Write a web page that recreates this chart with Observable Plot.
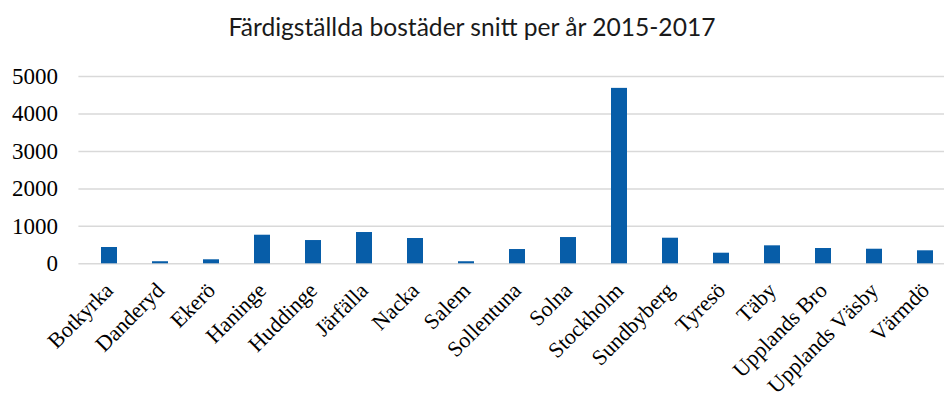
<!DOCTYPE html>
<html>
<head>
<meta charset="utf-8">
<script src="https://cdn.jsdelivr.net/npm/d3@7"></script>
<script src="https://cdn.jsdelivr.net/npm/@observablehq/plot@0.6"></script>
<style>
  html, body { margin: 0; padding: 0; background: #fff; }
  #wrap { width: 944px; height: 401px; position: relative; overflow: hidden; }
  #title { position: absolute; left: 0; top: 0; width: 944px; height: 54px; line-height: 54px;
           text-align: center; font-family: Lato, "Liberation Sans", Arial, sans-serif; font-size: 24.6px; color: #1a1a1a; }
  #chart { position: absolute; left: 0; top: 55px; }
</style>
</head>
<body>
<div id="wrap">
  <div id="title">Färdigställda bostäder snitt per år 2015-2017</div>
  <div id="chart"></div>
</div>
<script>
const categories = ["Botkyrka","Danderyd","Ekerö","Haninge","Huddinge","Järfälla","Nacka","Salem","Sollentuna","Solna","Stockholm","Sundbyberg","Tyresö","Täby","Upplands Bro","Upplands Väsby","Värmdö"];
const values = [435, 55, 107, 763, 621, 835, 675, 55, 381, 701, 4683, 683, 283, 480, 408, 389, 347];
const yTicks = [0, 1000, 2000, 3000, 4000, 5000];

const data = categories.map((c, i) => ({name: c, value: values[i]}));

const chart = Plot.plot({
  width: 944,
  height: 346,
  marginTop: 21,
  marginBottom: 137.7,
  marginLeft: 78.4,
  marginRight: 0,
  style: {fontFamily: "'Liberation Serif', 'Times New Roman', serif", fontSize: "23px", color: "#000", background: "transparent"},
  x: {domain: categories, range: [78.4, 955.6], paddingInner: 0.684, paddingOuter: 0.342, label: null},
  y: {domain: [0, 5000], ticks: yTicks, label: null},
  marks: [
    Plot.ruleY(yTicks, {stroke: "#d9d9d9", strokeWidth: 1.5}),
    Plot.barY(data, {x: "name", y: "value", fill: "#075DA8"}),
    Plot.axisY({ticks: yTicks, tickSize: 0, tickPadding: 21, tickFormat: d => String(d), fontSize: 23}),
    Plot.axisX({tickSize: 0, tickRotate: -45, tickPadding: 23, fontSize: 22})
  ]
});
document.getElementById("chart").appendChild(chart);
</script>
</body>
</html>
